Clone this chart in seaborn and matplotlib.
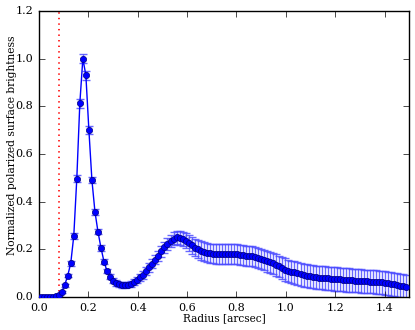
import numpy as np
import pandas as pd
import matplotlib
matplotlib.use("Agg")
import matplotlib.pyplot as plt
import seaborn as sns

# radial profile sampled at the detector pixel scale (arcsec per pixel)
pixel_scale = 0.01225
n_points = 122

brightness = [
    0.000, 0.000, 0.000, 0.001, 0.002, 0.004, 0.009, 0.022, 0.050, 0.090,
    0.142, 0.256, 0.496, 0.812, 1.000, 0.930, 0.700, 0.490, 0.358, 0.274,
    0.206, 0.148, 0.109, 0.085, 0.068, 0.059, 0.053, 0.050, 0.050, 0.052,
    0.056, 0.063, 0.071, 0.082, 0.093, 0.108, 0.124, 0.140, 0.157, 0.174,
    0.191, 0.208, 0.223, 0.236, 0.245, 0.250, 0.248, 0.243, 0.236, 0.227,
    0.217, 0.207, 0.200, 0.195, 0.190, 0.186, 0.183, 0.182, 0.181, 0.181,
    0.181, 0.182, 0.182, 0.181, 0.180, 0.179, 0.178, 0.176, 0.174, 0.172,
    0.170, 0.167, 0.164, 0.160, 0.155, 0.150, 0.146, 0.141, 0.134, 0.128,
    0.121, 0.115, 0.110, 0.106, 0.103, 0.099, 0.096, 0.092, 0.089, 0.087,
    0.085, 0.083, 0.081, 0.080, 0.079, 0.078, 0.077, 0.076, 0.075, 0.074,
    0.073, 0.072, 0.071, 0.070, 0.069, 0.068, 0.067, 0.066, 0.066, 0.065,
    0.064, 0.063, 0.062, 0.061, 0.059, 0.057, 0.055, 0.053, 0.050, 0.048,
    0.046, 0.044,
]

brightness_err = [
    0.002, 0.002, 0.002, 0.002, 0.002, 0.003, 0.003, 0.004, 0.006, 0.008,
    0.010, 0.012, 0.015, 0.018, 0.020, 0.019, 0.016, 0.013, 0.012, 0.011,
    0.011, 0.010, 0.010, 0.010, 0.010, 0.011, 0.011, 0.012, 0.012, 0.012,
    0.013, 0.013, 0.014, 0.015, 0.016, 0.017, 0.018, 0.019, 0.020, 0.021,
    0.022, 0.023, 0.025, 0.026, 0.027, 0.028, 0.029, 0.030, 0.032, 0.034,
    0.035, 0.036, 0.037, 0.038, 0.039, 0.040, 0.041, 0.041, 0.042, 0.042,
    0.042, 0.042, 0.042, 0.042, 0.042, 0.042, 0.042, 0.042, 0.042, 0.042,
    0.042, 0.042, 0.043, 0.043, 0.043, 0.044, 0.044, 0.045, 0.045, 0.046,
    0.046, 0.047, 0.047, 0.047, 0.048, 0.048, 0.048, 0.048, 0.048, 0.048,
    0.048, 0.048, 0.048, 0.048, 0.049, 0.049, 0.049, 0.049, 0.049, 0.049,
    0.049, 0.049, 0.049, 0.049, 0.049, 0.049, 0.049, 0.049, 0.049, 0.049,
    0.049, 0.049, 0.049, 0.049, 0.049, 0.049, 0.049, 0.049, 0.049, 0.049,
    0.049, 0.049,
]

radius = (np.arange(n_points) + 0.5) * pixel_scale
inner_radius = 0.08

df = pd.DataFrame({"radius": radius, "pi": brightness, "err": brightness_err})

plt.style.use("classic")
plt.rcParams["font.family"] = ["DejaVu Serif"]
plt.rcParams["font.size"] = 8

fig = plt.figure(figsize=(4.15, 3.3), dpi=100)
ax = fig.add_axes([0.094, 0.1, 0.892, 0.867])

ax.errorbar(df["radius"], df["pi"], yerr=df["err"], fmt="none",
            ecolor=(0.3, 0.3, 1.0), elinewidth=1.0, capsize=3, capthick=1.0,
            alpha=0.85, zorder=2)
sns.lineplot(data=df, x="radius", y="pi", ax=ax, color="b", lw=1.0,
             marker="o", markersize=4.5, markeredgecolor="navy",
             markeredgewidth=0.5, zorder=3)
ax.axvline(inner_radius, color="r", ls=":", lw=1.2, zorder=1)

ax.set_xlim(0, 1.5)
ax.set_ylim(0, 1.2)
ax.set_xticks(np.arange(0, 1.41, 0.2))
ax.set_yticks(np.arange(0, 1.21, 0.2))
ax.set_xlabel("Radius [arcsec]", fontsize=7.6)
ax.set_ylabel("Normalized polarized surface brightness", fontsize=7.7)
ax.yaxis.set_label_coords(-0.06, 0.53)
ax.xaxis.set_label_coords(0.5, -0.055)
ax.tick_params(labelsize=8)

fig.savefig("out.png", dpi=100)
